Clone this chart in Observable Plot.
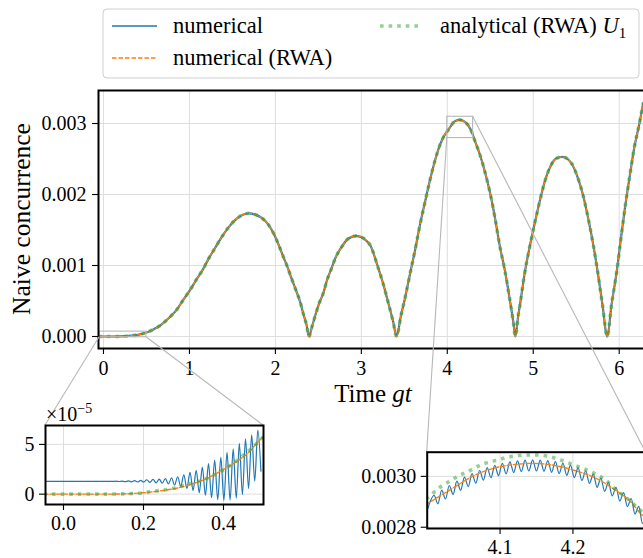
<!DOCTYPE html>
<html>
<head>
<meta charset="utf-8">
<script src="https://cdn.jsdelivr.net/npm/d3@7"></script>
<script src="https://cdn.jsdelivr.net/npm/@observablehq/plot@0.6"></script>
<style>
  html, body { margin: 0; padding: 0; overflow: hidden; background: #fff; }
  #fig { position: relative; width: 643px; height: 558px; overflow: hidden; background: #fff; font-family: "Liberation Serif", serif; }
  #fig > div, #fig > svg { position: absolute; }
  #fig svg { max-width: none !important; }
</style>
</head>
<body>
<div id="fig"></div>
<script>
// ---------------- data ----------------
// main curve: time gt and naive concurrence
const mainT = [-0.06, 0, 0.1, 0.2, 0.3, 0.4, 0.5, 0.58, 0.66, 0.76, 0.86, 0.93, 1.01, 1.085, 1.16, 1.22, 1.30, 1.375, 1.45, 1.55, 1.62, 1.69, 1.76, 1.84, 1.91, 1.98, 2.035, 2.09, 2.14, 2.19, 2.24, 2.29, 2.325, 2.364, 2.39, 2.43, 2.47, 2.51, 2.56, 2.60, 2.65, 2.70, 2.77, 2.85, 2.94, 3.03, 3.11, 3.19, 3.25, 3.31, 3.37, 3.41, 3.46, 3.51, 3.566, 3.624, 3.68, 3.74, 3.80, 3.857, 3.915, 3.97, 4.0, 4.037, 4.064, 4.1, 4.147, 4.183, 4.229, 4.256, 4.284, 4.32, 4.38, 4.44, 4.50, 4.555, 4.61, 4.67, 4.73, 4.77, 4.792, 4.826, 4.845, 4.90, 4.96, 5.02, 5.08, 5.136, 5.21, 5.27, 5.34, 5.40, 5.445, 5.52, 5.58, 5.64, 5.70, 5.756, 5.806, 5.862, 5.91, 5.97, 6.015, 6.066, 6.124, 6.18, 6.23, 6.28];
const mainC = [0, 0, 0, 0.0014e-3, 0.0085e-3, 0.0238e-3, 0.057e-3, 0.10e-3, 0.155e-3, 0.26e-3, 0.39e-3, 0.52e-3, 0.66e-3, 0.81e-3, 0.95e-3, 1.09e-3, 1.25e-3, 1.40e-3, 1.53e-3, 1.66e-3, 1.715e-3, 1.735e-3, 1.72e-3, 1.67e-3, 1.59e-3, 1.45e-3, 1.30e-3, 1.13e-3, 0.98e-3, 0.81e-3, 0.65e-3, 0.48e-3, 0.32e-3, 0.155e-3, 0, 0.155e-3, 0.32e-3, 0.47e-3, 0.62e-3, 0.79e-3, 0.95e-3, 1.11e-3, 1.26e-3, 1.38e-3, 1.418e-3, 1.38e-3, 1.27e-3, 0.99e-3, 0.76e-3, 0.49e-3, 0.21e-3, 0, 0.29e-3, 0.55e-3, 0.88e-3, 1.21e-3, 1.56e-3, 1.89e-3, 2.21e-3, 2.48e-3, 2.70e-3, 2.84e-3, 2.891e-3, 2.957e-3, 3.003e-3, 3.038e-3, 3.051e-3, 3.038e-3, 2.996e-3, 2.950e-3, 2.885e-3, 2.76e-3, 2.56e-3, 2.31e-3, 2.01e-3, 1.67e-3, 1.28e-3, 0.93e-3, 0.50e-3, 0.19e-3, 0, 0.30e-3, 0.44e-3, 0.89e-3, 1.27e-3, 1.61e-3, 1.93e-3, 2.19e-3, 2.42e-3, 2.51e-3, 2.53e-3, 2.50e-3, 2.44e-3, 2.23e-3, 1.99e-3, 1.66e-3, 1.28e-3, 0.86e-3, 0.44e-3, 0, 0.44e-3, 0.905e-3, 1.33e-3, 1.80e-3, 2.27e-3, 2.69e-3, 2.97e-3, 3.29e-3];

// inset 1 (early times)
const in1NumT = [-0.05, 0.125, 0.131, 0.1389, 0.1466, 0.1543, 0.162, 0.1698, 0.1775, 0.1852, 0.1929, 0.2006, 0.2083, 0.216, 0.2238, 0.2315, 0.2392, 0.2469, 0.2546, 0.2623, 0.27, 0.2777, 0.2854, 0.2931, 0.3008, 0.3085, 0.3163, 0.324, 0.3317, 0.3394, 0.3471, 0.3548, 0.3625, 0.3702, 0.3779, 0.3856, 0.3933, 0.401, 0.4088, 0.4165, 0.4242, 0.4319, 0.4396, 0.4473, 0.455, 0.4627, 0.4704, 0.4781, 0.4858, 0.4935];
const in1NumC = [1.28e-5, 1.28e-5, 1.30e-5, 1.27e-5, 1.31e-5, 1.25e-5, 1.33e-5, 1.24e-5, 1.35e-5, 1.22e-5, 1.38e-5, 1.21e-5, 1.45e-5, 1.18e-5, 1.48e-5, 1.14e-5, 1.52e-5, 1.10e-5, 1.57e-5, 1.02e-5, 1.65e-5, 0.92e-5, 1.75e-5, 0.78e-5, 1.95e-5, 0.58e-5, 2.20e-5, 0.38e-5, 2.40e-5, 0.15e-5, 2.72e-5, -0.10e-5, 3.06e-5, -0.35e-5, 3.42e-5, -0.55e-5, 3.70e-5, -0.62e-5, 4.20e-5, -0.60e-5, 4.55e-5, -0.40e-5, 5.10e-5, -0.05e-5, 5.55e-5, 0.55e-5, 5.95e-5, 1.30e-5, 6.45e-5, 2.30e-5];
const in1RwaT = [-0.05, 0.1, 0.15, 0.2, 0.23, 0.276, 0.3175, 0.36, 0.3925, 0.426, 0.46, 0.4925, 0.505];
const in1RwaC = [0, 0, 0.03e-5, 0.14e-5, 0.27e-5, 0.54e-5, 0.98e-5, 1.61e-5, 2.31e-5, 3.1e-5, 4.1e-5, 5.5e-5, 5.95e-5];
const in1AnaT = [-0.05, 0.1, 0.15, 0.2, 0.2305, 0.2597, 0.2888, 0.318, 0.347, 0.375, 0.4008, 0.4258, 0.4467, 0.4717, 0.4925, 0.505];
const in1AnaC = [0, 0, 0.03e-5, 0.14e-5, 0.32e-5, 0.46e-5, 0.73e-5, 1.07e-5, 1.40e-5, 1.90e-5, 2.47e-5, 3.14e-5, 3.81e-5, 4.68e-5, 5.48e-5, 5.95e-5];

// inset 2 (around the maximum near gt = 4.15)
const in2NumT = [4.0, 4.0095, 4.0147, 4.0199, 4.0251, 4.0303, 4.0355, 4.0407, 4.0459, 4.0511, 4.0563, 4.0615, 4.0667, 4.0719, 4.0771, 4.0823, 4.0875, 4.0927, 4.0979, 4.1031, 4.1083, 4.1135, 4.1187, 4.1239, 4.1291, 4.1343, 4.1395, 4.1447, 4.1499, 4.1551, 4.1603, 4.1655, 4.1707, 4.1759, 4.1811, 4.1863, 4.1915, 4.1967, 4.2019, 4.2071, 4.2123, 4.2175, 4.2227, 4.2279, 4.2331, 4.2383, 4.2435, 4.2487, 4.2539, 4.2591, 4.2643, 4.2695, 4.2747, 4.2799, 4.2851, 4.2903, 4.2955, 4.3007];
const in2NumC = [2.866e-3, 2.925e-3, 2.892e-3, 2.946e-3, 2.911e-3, 2.964e-3, 2.929e-3, 2.981e-3, 2.945e-3, 2.997e-3, 2.960e-3, 3.011e-3, 2.973e-3, 3.023e-3, 2.985e-3, 3.034e-3, 2.995e-3, 3.043e-3, 3.003e-3, 3.051e-3, 3.010e-3, 3.057e-3, 3.015e-3, 3.061e-3, 3.019e-3, 3.064e-3, 3.021e-3, 3.065e-3, 3.021e-3, 3.064e-3, 3.020e-3, 3.062e-3, 3.016e-3, 3.058e-3, 3.011e-3, 3.052e-3, 3.004e-3, 3.044e-3, 2.995e-3, 3.034e-3, 2.984e-3, 3.022e-3, 2.972e-3, 3.009e-3, 2.957e-3, 2.993e-3, 2.941e-3, 2.976e-3, 2.923e-3, 2.957e-3, 2.903e-3, 2.936e-3, 2.881e-3, 2.913e-3, 2.852e-3, 2.882e-3, 2.815e-3, 2.850e-3];
const in2RwaT = [3.998, 4.037, 4.064, 4.1, 4.147, 4.183, 4.2, 4.229, 4.256, 4.284, 4.29, 4.302];
const in2RwaC = [2.888e-3, 2.957e-3, 3.0026e-3, 3.038e-3, 3.051e-3, 3.038e-3, 3.025e-3, 2.996e-3, 2.950e-3, 2.885e-3, 2.862e-3, 2.835e-3];
const in2AnaT = [3.998, 4.0027, 4.014, 4.028, 4.044, 4.058, 4.074, 4.0895, 4.105, 4.12, 4.137, 4.152, 4.168, 4.184, 4.2, 4.216, 4.231, 4.246, 4.258, 4.274, 4.293, 4.302];
const in2AnaC = [2.912e-3, 2.920e-3, 2.950e-3, 2.976e-3, 3.003e-3, 3.022e-3, 3.046e-3, 3.059e-3, 3.071e-3, 3.080e-3, 3.084e-3, 3.084e-3, 3.077e-3, 3.064e-3, 3.046e-3, 3.029e-3, 3.009e-3, 2.983e-3, 2.950e-3, 2.914e-3, 2.865e-3, 2.842e-3];

// ticks and labels
const mainXTicks = [0, 1, 2, 3, 4, 5, 6];
const mainYTicks = [0, 0.001, 0.002, 0.003];
const in1XTicks = [0, 0.2, 0.4];
const in1YTicks = [0, 5e-5];
const in2XTicks = [4.1, 4.2];
const in2YTicks = [0.0028, 0.0030];
const seriesNames = ["numerical", "numerical (RWA)", "analytical (RWA) "];
const xLabel = ["Time ", "gt"];
const yLabel = "Naive concurrence";

// ---------------- styling ----------------
const BLUE = "#1f77b4", ORANGE = "#ff7f0e", GREEN = "#2ca02c";
const GRID = "#dedede", BOXC = "#b8b8b8";
const FONT = "'Liberation Serif', serif";

const zip = (T, C) => T.map((t, i) => ({t, c: C[i]}));
const mainData = zip(mainT, mainC);

function seriesMarks(num, rwa, ana, numWidth) {
  return [
    Plot.line(num, {x: "t", y: "c", stroke: BLUE, strokeWidth: numWidth, curve: "monotone-x", clip: true}),
    Plot.line(rwa, {x: "t", y: "c", stroke: ORANGE, strokeWidth: 1.4, strokeDasharray: "4.5,2", curve: "monotone-x", clip: true}),
    Plot.line(ana, {x: "t", y: "c", stroke: GREEN, strokeOpacity: 0.5, strokeWidth: 3.6, strokeDasharray: "3.6,5", strokeLinecap: "butt", curve: "monotone-x", clip: true})
  ];
}

const in1X = [-0.045, 0.5], in1Y = [-1.04e-5, 6.9e-5];
const in2X = [4.0, 4.3], in2Y = [0.002795, 0.003095];

const fig = document.getElementById("fig");
function place(node, left, top, w, h) {
  const d = document.createElement("div");
  d.style.left = left + "px"; d.style.top = top + "px";
  d.style.width = w + "px"; d.style.height = h + "px";
  node.style.maxWidth = "none";
  d.appendChild(node);
  fig.appendChild(d);
}

// ---------------- main plot ----------------
const main = Plot.plot({
  width: 700, height: 558,
  marginLeft: 98, marginRight: 52, marginTop: 90, marginBottom: 210,
  x: {domain: [-0.058, 6.341]},
  y: {domain: [-0.169e-3, 3.465e-3]},
  style: {fontFamily: FONT, fontSize: "20px", background: "transparent", overflow: "visible", color: "black"},
  marks: [
    Plot.gridX({ticks: mainXTicks, stroke: GRID, strokeOpacity: 1, strokeWidth: 1}),
    Plot.gridY({ticks: mainYTicks, stroke: GRID, strokeOpacity: 1, strokeWidth: 1}),
    ...seriesMarks(mainData, mainData, mainData, 2.2),
    Plot.rect([{x1: in1X[0], x2: in1X[1], y1: in1Y[0], y2: in1Y[1]}, {x1: in2X[0], x2: in2X[1], y1: in2Y[0], y2: in2Y[1]}],
      {x1: "x1", x2: "x2", y1: "y1", y2: "y2", fill: "none", stroke: BOXC, strokeWidth: 1.1}),
    Plot.frame({stroke: "black", strokeWidth: 2}),
    Plot.axisX({ticks: mainXTicks, tickFormat: d3.format("d"), tickSize: 6, tickPadding: 6, label: null, strokeWidth: 1.1, fontFamily: FONT}),
    Plot.axisY({ticks: mainYTicks, tickFormat: d3.format(".3f"), tickSize: 6, tickPadding: 6, label: null, strokeWidth: 1.1, fontFamily: FONT})
  ]
});
place(main, 0, 0, 700, 558);

// ---------------- insets ----------------
const L1 = 0, T1 = 390, L2 = 340, T2 = 430;
const inset1 = Plot.plot({
  width: 280, height: 150,
  marginLeft: 45, marginRight: 17, marginTop: 35, marginBottom: 36,
  x: {domain: in1X},
  y: {domain: in1Y},
  style: {fontFamily: FONT, fontSize: "20px", background: "transparent", overflow: "visible", color: "black"},
  marks: [
    Plot.frame({fill: "white", stroke: "none"}),
    Plot.gridX({ticks: in1XTicks, stroke: GRID, strokeOpacity: 1, strokeWidth: 1}),
    Plot.gridY({ticks: in1YTicks, stroke: GRID, strokeOpacity: 1, strokeWidth: 1}),
    ...seriesMarks(zip(in1NumT, in1NumC), zip(in1RwaT, in1RwaC), zip(in1AnaT, in1AnaC), 1.2),
    Plot.frame({stroke: "black", strokeWidth: 2}),
    Plot.axisX({ticks: in1XTicks, tickFormat: d3.format(".1f"), tickSize: 6, tickPadding: 5, label: null, strokeWidth: 1.1, fontFamily: FONT}),
    Plot.axisY({ticks: in1YTicks, tickFormat: d => String(Math.round(d * 1e5)), tickSize: 6, tickPadding: 5, label: null, strokeWidth: 1.1, fontFamily: FONT})
  ]
});
const inset2 = Plot.plot({
  width: 330, height: 128,
  marginLeft: 86.7, marginRight: 24.7, marginTop: 21.7, marginBottom: 30,
  x: {domain: in2X},
  y: {domain: in2Y},
  style: {fontFamily: FONT, fontSize: "20px", background: "transparent", overflow: "visible", color: "black"},
  marks: [
    Plot.frame({fill: "white", stroke: "none"}),
    Plot.gridX({ticks: in2XTicks, stroke: GRID, strokeOpacity: 1, strokeWidth: 1}),
    Plot.gridY({ticks: in2YTicks, stroke: GRID, strokeOpacity: 1, strokeWidth: 1}),
    ...seriesMarks(zip(in2NumT, in2NumC), zip(in2RwaT, in2RwaC), zip(in2AnaT, in2AnaC), 1.2),
    Plot.frame({stroke: "black", strokeWidth: 2}),
    Plot.axisX({ticks: in2XTicks, tickFormat: d3.format(".1f"), tickSize: 6, tickPadding: 5, label: null, strokeWidth: 1.1, fontFamily: FONT}),
    Plot.axisY({ticks: in2YTicks, tickFormat: d3.format(".4f"), tickSize: 6, tickPadding: 5, label: null, strokeWidth: 1.1, fontFamily: FONT})
  ]
});

// ---------------- overlay: connectors, axis labels, offset text ----------------
const mx = main.scale("x"), my = main.scale("y");
const a1x = inset1.scale("x"), a1y = inset1.scale("y");
const a2x = inset2.scale("x"), a2y = inset2.scale("y");
const ov = d3.create("svg").attr("width", 643).attr("height", 558)
  .style("left", "0px").style("top", "0px").style("overflow", "visible");
const conns = [
  [mx.apply(in1X[0]), my.apply(in1Y[0]), L1 + a1x.apply(in1X[0]), T1 + a1y.apply(in1Y[1])],
  [mx.apply(in1X[1]), my.apply(in1Y[0]), L1 + a1x.apply(in1X[1]), T1 + a1y.apply(in1Y[1])],
  [mx.apply(in2X[0]), my.apply(in2Y[0]), L2 + a2x.apply(in2X[0]), T2 + a2y.apply(in2Y[1])],
  [mx.apply(in2X[1]), my.apply(in2Y[1]), L2 + a2x.apply(in2X[1]), T2 + a2y.apply(in2Y[1])]
];
ov.selectAll("line").data(conns).join("line")
  .attr("x1", d => d[0]).attr("y1", d => d[1]).attr("x2", d => d[2]).attr("y2", d => d[3])
  .attr("stroke", BOXC).attr("stroke-width", 1.1);
const xl = ov.append("text").attr("x", (mx.apply(mx.domain[0]) + mx.apply(mx.domain[1])) / 2).attr("y", 402)
  .attr("text-anchor", "middle").attr("font-family", FONT).attr("font-size", 25);
xl.append("tspan").text(xLabel[0]);
xl.append("tspan").attr("font-style", "italic").text(xLabel[1]);
ov.append("text").attr("transform", `translate(30,${(my.apply(my.domain[0]) + my.apply(my.domain[1])) / 2}) rotate(-90)`)
  .attr("text-anchor", "middle").attr("font-family", FONT).attr("font-size", 25.5).text(yLabel);
const off = ov.append("text").attr("x", L1 + a1x.apply(in1X[0]) + 1).attr("y", T1 + a1y.apply(in1Y[1]) - 4)
  .attr("font-family", FONT).attr("font-size", 20);
off.append("tspan").text("×10");
off.append("tspan").attr("dy", -8).attr("font-size", 14).text("−5");
fig.appendChild(ov.node());

place(inset1, L1, T1, 280, 150);
place(inset2, L2, T2, 330, 128);

// ---------------- legend ----------------
const lg = d3.create("svg").attr("width", 540).attr("height", 72)
  .style("left", "102px").style("top", "8px");
lg.append("rect").attr("x", 1).attr("y", 1).attr("width", 536).attr("height", 69).attr("rx", 4)
  .attr("fill", "white").attr("fill-opacity", 0.85).attr("stroke", "#d0d0d0").attr("stroke-width", 1);
const handles = [
  {x: 10, y: 18, stroke: BLUE, w: 1.4, dash: null, op: 1},
  {x: 10, y: 50, stroke: ORANGE, w: 1.4, dash: "4.5,2", op: 1},
  {x: 278, y: 18, stroke: GREEN, w: 3.6, dash: "3.6,5", op: 0.5}
];
handles.forEach(h => {
  lg.append("line").attr("x1", h.x).attr("x2", h.x + (h.stroke === GREEN ? 42 : 45)).attr("y1", h.y).attr("y2", h.y)
    .attr("stroke", h.stroke).attr("stroke-width", h.w).attr("stroke-dasharray", h.dash).attr("stroke-opacity", h.op);
});
const lt = [{x: 71, y: 25, s: seriesNames[0]}, {x: 71, y: 57, s: seriesNames[1]}, {x: 338, y: 25, s: seriesNames[2]}];
lt.forEach((d, i) => {
  const t = lg.append("text").attr("x", d.x).attr("y", d.y).attr("font-family", FONT).attr("font-size", 22.5).text(d.s);
  if (i === 2) {
    t.append("tspan").attr("font-style", "italic").text("U");
    t.append("tspan").attr("dy", 5).attr("font-size", 15).text("1");
  }
});
fig.appendChild(lg.node());
</script>
</body>
</html>
